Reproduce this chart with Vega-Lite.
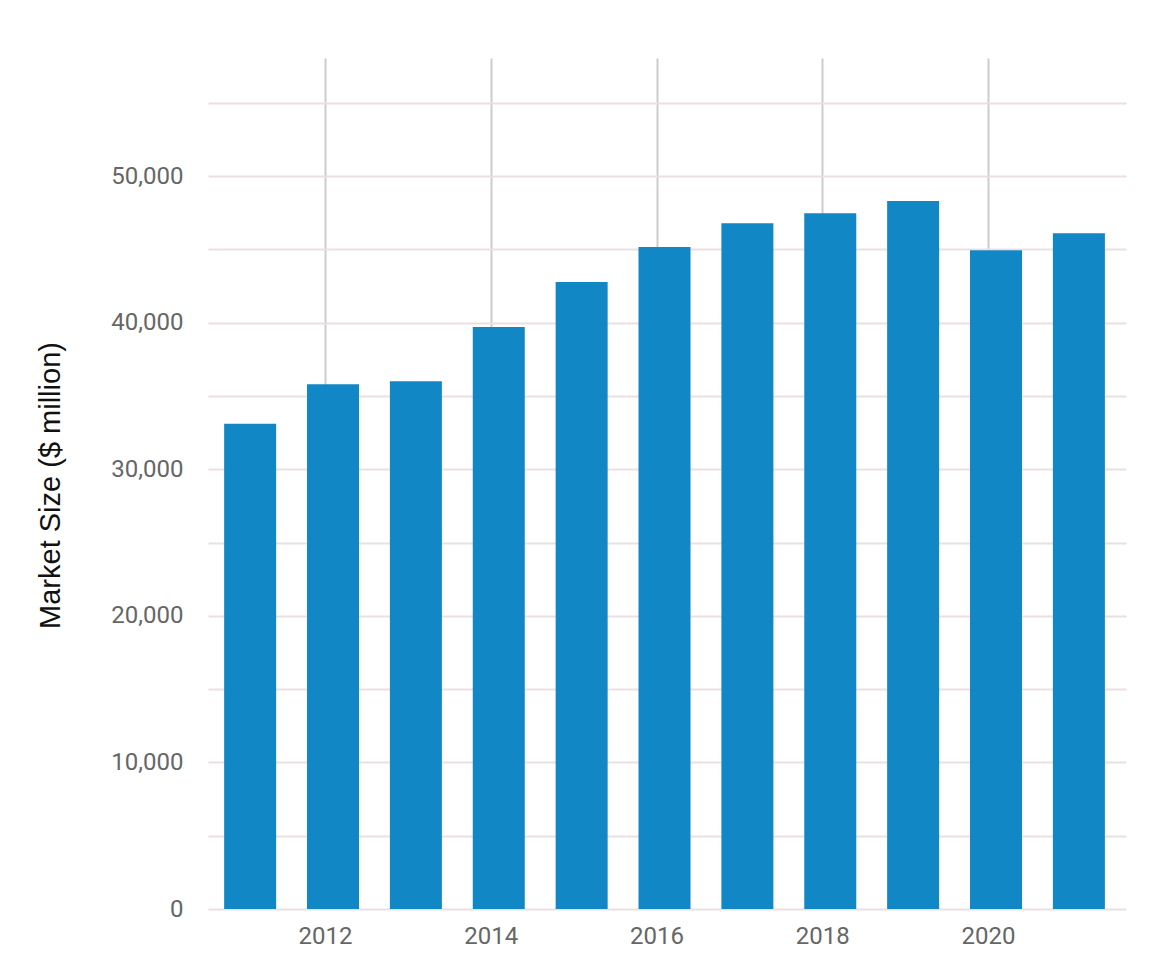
{
  "$schema": "https://vega.github.io/schema/vega-lite/v6.json",
  "autosize": "none",
  "width": 918,
  "height": 851,
  "padding": {"left": 208, "top": 58, "right": 28, "bottom": 47},
  "background": "white",
  "data": {"values": [
    {"year": 2011, "value": 33100},
    {"year": 2012, "value": 35800},
    {"year": 2013, "value": 36000},
    {"year": 2014, "value": 39700},
    {"year": 2015, "value": 42770},
    {"year": 2016, "value": 45160},
    {"year": 2017, "value": 46770},
    {"year": 2018, "value": 47460},
    {"year": 2019, "value": 48290},
    {"year": 2020, "value": 44930},
    {"year": 2021, "value": 46090}
  ]},
  "mark": {"type": "bar", "color": "#1287c5", "width": 52, "xOffset": 8},
  "encoding": {
    "x": {
      "field": "year", "type": "quantitative",
      "scale": {"domain": [2010.588, 2021.665], "nice": false, "zero": false, "padding": 0},
      "axis": {
        "values": [2012, 2014, 2016, 2018, 2020],
        "format": "d", "title": null, "domain": false, "ticks": false,
        "grid": true, "gridColor": "#cfcbcd", "gridWidth": 2,
        "labelFont": "Roboto", "labelFontSize": 24, "labelColor": "#666666",
        "labelPadding": 15
      }
    },
    "y": {
      "field": "value", "type": "quantitative",
      "scale": {"domain": [0, 58050], "nice": false, "padding": 0},
      "axis": {
        "values": [0, 5000, 10000, 15000, 20000, 25000, 30000, 35000, 40000, 45000, 50000, 55000],
        "labelExpr": "datum.value % 10000 == 0 ? format(datum.value, ',') : ''",
        "title": "Market Size ($ million)",
        "titleFont": "Liberation Sans", "titleFontSize": 29, "titleFontWeight": "normal", "titleColor": "#111111",
        "titleAngle": -90, "titleAlign": "center", "titleBaseline": "middle",
        "titleX": -158, "titleY": 427,
        "domain": false, "ticks": false,
        "grid": true, "gridColor": "#ecdfe3", "gridWidth": 2,
        "labelFont": "Roboto", "labelFontSize": 24, "labelColor": "#666666",
        "labelPadding": 25
      }
    }
  },
  "config": {"view": {"stroke": null}}
}
